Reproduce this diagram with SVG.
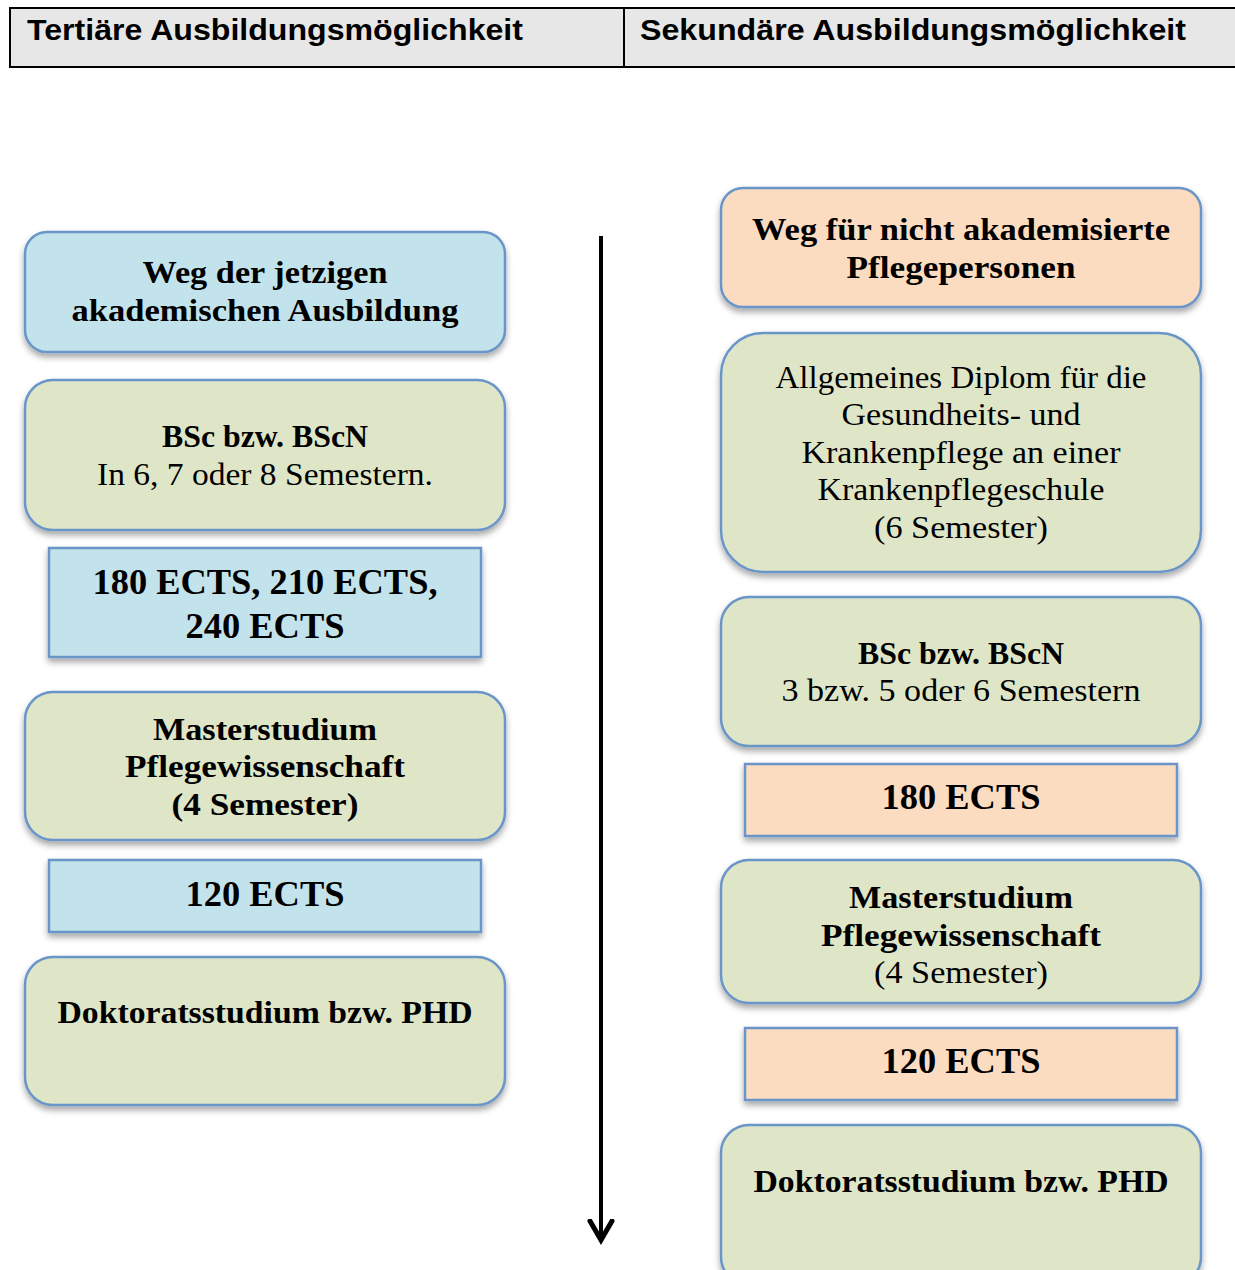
<svg xmlns="http://www.w3.org/2000/svg" width="1235" height="1270" viewBox="0 0 1235 1270">
<style>
.hdr{font-family:"Liberation Sans",Arial,sans-serif;font-weight:bold;font-size:29px;fill:#000}
.t{font-family:"Liberation Serif","DejaVu Serif",serif;font-size:31px;fill:#000;text-anchor:middle}
.b{font-weight:bold}
.e{font-family:"Liberation Serif","DejaVu Serif",serif;font-weight:bold;font-size:36px;fill:#000;text-anchor:middle}
.blue{fill:#c3e3ec;stroke:#6a95c9;stroke-width:2.5}
.green{fill:#dfe6c8;stroke:#6a95c9;stroke-width:2.5}
.orange{fill:#fcdcc1;stroke:#6a95c9;stroke-width:2.5}
</style>
<defs>
<filter id="sh" x="-10%" y="-10%" width="120%" height="130%">
<feDropShadow dx="0" dy="4" stdDeviation="3" flood-color="#000" flood-opacity="0.35"/>
</filter>
<marker id="ah" markerWidth="26" markerHeight="30" refX="21" refY="15" orient="auto" markerUnits="userSpaceOnUse" viewBox="0 0 26 30">
<path d="M2,4 L21,15 L2,26" fill="none" stroke="#000" stroke-width="5" stroke-linecap="round" stroke-linejoin="miter"/>
</marker>
</defs>
<rect width="1235" height="1270" fill="#fff"/>
<g id="header">
<rect x="10" y="8" width="1235" height="59" fill="#e7e7e7" stroke="#000" stroke-width="2"/>
<line x1="624" y1="8" x2="624" y2="67" stroke="#000" stroke-width="2"/>
<text class="hdr" x="27" y="40" textLength="496" lengthAdjust="spacingAndGlyphs">Tertiäre Ausbildungsmöglichkeit</text>
<text class="hdr" x="640" y="40" textLength="546" lengthAdjust="spacingAndGlyphs">Sekundäre Ausbildungsmöglichkeit</text>
</g>
<g id="connectors">
<line x1="601" y1="236" x2="601" y2="1240" stroke="#000" stroke-width="4" marker-end="url(#ah)"/>
</g>
<g id="l1"><rect class="blue" x="25" y="232" width="480" height="120" rx="22" filter="url(#sh)"/>
<text class="t b" x="265" y="283" textLength="245" lengthAdjust="spacingAndGlyphs">Weg der jetzigen</text><text class="t b" x="265" y="321" textLength="387" lengthAdjust="spacingAndGlyphs">akademischen Ausbildung</text></g>
<g id="l2"><rect class="green" x="25" y="380" width="480" height="150" rx="28" filter="url(#sh)"/>
<text class="t b" x="265" y="447" textLength="206" lengthAdjust="spacingAndGlyphs">BSc bzw. BScN</text><text class="t" x="265" y="485" textLength="336" lengthAdjust="spacingAndGlyphs">In 6, 7 oder 8 Semestern.</text></g>
<g id="l3"><rect class="blue" x="49" y="548" width="432" height="109" filter="url(#sh)"/>
<text class="e" x="265" y="594" textLength="345" lengthAdjust="spacingAndGlyphs">180 ECTS, 210 ECTS,</text><text class="e" x="265" y="638" textLength="159" lengthAdjust="spacingAndGlyphs">240 ECTS</text></g>
<g id="l4"><rect class="green" x="25" y="692" width="480" height="148" rx="28" filter="url(#sh)"/>
<text class="t b" x="265" y="740" textLength="224" lengthAdjust="spacingAndGlyphs">Masterstudium</text><text class="t b" x="265" y="777" textLength="280" lengthAdjust="spacingAndGlyphs">Pflegewissenschaft</text><text class="t b" x="265" y="815" textLength="187" lengthAdjust="spacingAndGlyphs">(4 Semester)</text></g>
<g id="l5"><rect class="blue" x="49" y="860" width="432" height="72" filter="url(#sh)"/>
<text class="e" x="265" y="906" textLength="159" lengthAdjust="spacingAndGlyphs">120 ECTS</text></g>
<g id="l6"><rect class="green" x="25" y="957" width="480" height="148" rx="28" filter="url(#sh)"/>
<text class="t b" x="265" y="1023" textLength="415" lengthAdjust="spacingAndGlyphs">Doktoratsstudium bzw. PHD</text></g>
<g id="r1"><rect class="orange" x="721" y="188" width="480" height="119" rx="22" filter="url(#sh)"/>
<text class="t b" x="961" y="240" textLength="418" lengthAdjust="spacingAndGlyphs">Weg für nicht akademisierte</text><text class="t b" x="961" y="278" textLength="229" lengthAdjust="spacingAndGlyphs">Pflegepersonen</text></g>
<g id="r2"><rect class="green" x="721" y="333" width="480" height="239" rx="42" filter="url(#sh)"/>
<text class="t" x="961" y="388" textLength="371" lengthAdjust="spacingAndGlyphs">Allgemeines Diplom für die</text><text class="t" x="961" y="425" textLength="239" lengthAdjust="spacingAndGlyphs">Gesundheits- und</text><text class="t" x="961" y="463" textLength="319" lengthAdjust="spacingAndGlyphs">Krankenpflege an einer</text><text class="t" x="961" y="500" textLength="287" lengthAdjust="spacingAndGlyphs">Krankenpflegeschule</text><text class="t" x="961" y="538" textLength="174" lengthAdjust="spacingAndGlyphs">(6 Semester)</text></g>
<g id="r3"><rect class="green" x="721" y="597" width="480" height="149" rx="28" filter="url(#sh)"/>
<text class="t b" x="961" y="664" textLength="206" lengthAdjust="spacingAndGlyphs">BSc bzw. BScN</text><text class="t" x="961" y="701" textLength="359" lengthAdjust="spacingAndGlyphs">3 bzw. 5 oder 6 Semestern</text></g>
<g id="r4"><rect class="orange" x="745" y="764" width="432" height="72" filter="url(#sh)"/>
<text class="e" x="961" y="809" textLength="159" lengthAdjust="spacingAndGlyphs">180 ECTS</text></g>
<g id="r5"><rect class="green" x="721" y="860" width="480" height="143" rx="28" filter="url(#sh)"/>
<text class="t b" x="961" y="908" textLength="224" lengthAdjust="spacingAndGlyphs">Masterstudium</text><text class="t b" x="961" y="946" textLength="280" lengthAdjust="spacingAndGlyphs">Pflegewissenschaft</text><text class="t" x="961" y="983" textLength="174" lengthAdjust="spacingAndGlyphs">(4 Semester)</text></g>
<g id="r6"><rect class="orange" x="745" y="1028" width="432" height="72" filter="url(#sh)"/>
<text class="e" x="961" y="1073" textLength="159" lengthAdjust="spacingAndGlyphs">120 ECTS</text></g>
<g id="r7"><rect class="green" x="721" y="1125" width="480" height="160" rx="28" filter="url(#sh)"/>
<text class="t b" x="961" y="1192" textLength="415" lengthAdjust="spacingAndGlyphs">Doktoratsstudium bzw. PHD</text></g>
</svg>
